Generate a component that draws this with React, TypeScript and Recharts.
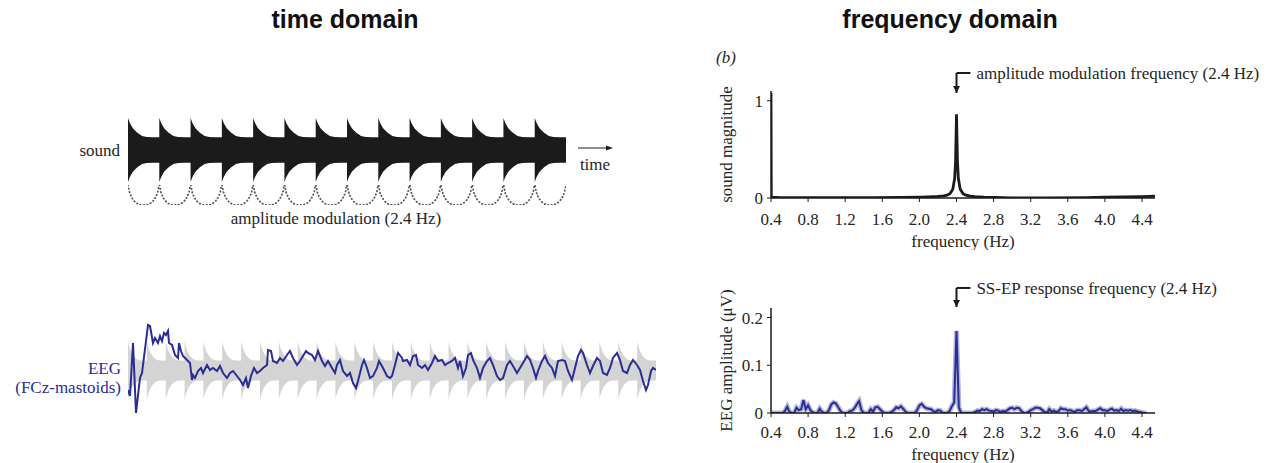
import React from 'react';
import {
  AreaChart,
  Area,
  LineChart,
  Line,
  XAxis,
  YAxis,
  ReferenceLine,
  ReferenceDot,
} from 'recharts';

const AM_RATE = 2.4; // Hz
const SOUND_CYCLES = 14;
const EEG_CYCLES = 28;

// one modulation cycle of the sound envelope (fraction of cycle -> relative amplitude)
const burstPhase = [0, 0.03, 0.06, 0.1, 0.15, 0.2, 0.3, 0.45, 0.6, 0.8, 1];
const soundBurstLevel = [1, 0.92, 0.84, 0.77, 0.69, 0.63, 0.54, 0.44, 0.41, 0.4, 0.4];
const eegBurstLevel = [1, 0.91, 0.83, 0.75, 0.66, 0.59, 0.49, 0.39, 0.35, 0.34, 0.34];

// dotted modulation arcs under the sound
const arcPhase = [0, 0.05, 0.1, 0.2, 0.3, 0.4, 0.5, 0.6, 0.7, 0.8, 0.9, 0.95, 1];
const arcDepth = [0, 0.35, 0.55, 0.8, 0.93, 0.99, 1, 0.99, 0.93, 0.8, 0.55, 0.35, 0];

// EEG trace (FCz-mastoids), sample index and amplitude
const eegSample = [
  0, 2, 5, 8, 12, 14, 18, 20, 22, 25, 27, 30, 32, 34, 36, 38, 40, 41, 44, 47, 50, 51, 53, 55, 59,
  62, 64, 65, 67, 70, 73, 75, 79, 82, 85, 89, 92, 95, 99, 102, 105, 109, 112, 115, 118, 120, 123,
  126, 129, 132, 135, 139, 140, 143, 145, 149, 152, 155, 159, 162, 165, 169, 172, 175, 178, 180,
  184, 187, 190, 194, 197, 200, 204, 207, 209, 212, 215, 219, 222, 225, 228, 230, 234, 236, 239,
  242, 245, 249, 251, 255, 259, 262, 264, 267, 270, 274, 275, 279, 282, 285, 288, 290, 294, 297,
  300, 304, 307, 310, 314, 317, 320, 324, 327, 330, 332, 335, 338, 340, 343, 345, 349, 352, 355,
  359, 362, 365, 369, 372, 375, 379, 382, 385, 389, 392, 395, 399, 402, 405, 408, 410, 414, 417,
  420, 424, 427, 430, 434, 437, 440, 444, 447, 450, 453, 455, 459, 462, 465, 469, 472, 475, 479,
  482, 485, 489, 492, 495, 499, 502, 505, 509, 512, 515, 518, 520, 523, 525, 528,
];
const eegValue = [
  -20, -26, 27, -43, -8, -3, 29, 45, 44, 27, 32, 27, 34, 29, 37, 35, 39, 27, 25, 15, 12, 27, 19, 14,
  10, 7, -10, -5, -8, -1, 2, -3, 5, 0, 2, -1, 4, -3, -8, -3, -1, -6, -10, -15, -8, -18, -6, 2, -3,
  -1, 2, 5, 20, 19, 9, 7, 12, 9, 15, 19, 12, 5, 9, 14, 19, 17, 15, 10, 19, 9, 4, 9, 2, -3, 5, 10,
  -1, -6, -3, -13, -18, -11, 5, 10, 2, -8, -6, 2, 9, 2, -6, -8, -6, 5, 17, 12, 9, 10, 5, 14, 15, 5,
  2, 5, 0, 7, 14, 9, 10, 5, 7, 9, 12, 2, 9, -6, 2, 15, 17, 10, 2, -8, 2, 9, 12, 5, -6, -10, -8, 5,
  9, 4, -3, 2, 7, 14, 10, 2, -8, -1, 9, 14, 7, 2, -6, 9, 10, 9, -1, -10, 2, 14, 20, 17, 5, -3, 4,
  12, 9, -3, -5, 2, 12, 17, 10, -1, -3, 5, 10, 5, 0, -11, -20, -15, -1, 2, 0,
];

// sound spectrum
const soundFreq = [
  0.4, 0.403, 0.5, 1.0, 1.5, 1.8, 2.0, 2.1, 2.2, 2.26, 2.3, 2.33, 2.36, 2.38, 2.39, 2.4, 2.41, 2.42,
  2.44, 2.47, 2.5, 2.55, 2.6, 2.7, 2.8, 3.0, 3.4, 3.8, 4.0, 4.2, 4.4, 4.54,
];
const soundMag = [
  1.08, 0.01, 0.004, 0.003, 0.004, 0.006, 0.009, 0.012, 0.016, 0.022, 0.03, 0.045, 0.09, 0.2, 0.38,
  0.86, 0.38, 0.2, 0.09, 0.045, 0.03, 0.02, 0.014, 0.008, 0.005, 0.002, 0.001, 0.004, 0.008, 0.012,
  0.015, 0.02,
];

// EEG spectrum, bins of 0.025 Hz from 0.4 Hz
const EEG_SPEC_START = 0.4;
const EEG_SPEC_STEP = 0.025;
const eegSpecAmp = [
  0, 0, 0, 0, 0, 0, 0.004, 0.013, 0.002, 0, 0, 0.011, 0.006, 0.008, 0.027, 0.008, 0.016, 0.006,
  0.001, 0, 0, 0.009, 0.002, 0, 0, 0.006, 0.018, 0.022, 0.02, 0.012, 0.004, 0, 0, 0, 0.004, 0.005,
  0.01, 0.018, 0.025, 0.006, 0, 0, 0, 0.008, 0.003, 0.012, 0.013, 0.008, 0.003, 0, 0, 0, 0.002,
  0.006, 0.012, 0.01, 0.014, 0.009, 0.003, 0, 0, 0, 0, 0.006, 0.016, 0.019, 0.013, 0.01, 0.009,
  0.008, 0.004, 0.002, 0.006, 0.005, 0, 0, 0, 0.004, 0.014, 0.022, 0.172, 0.012, 0, 0, 0, 0, 0, 0,
  0.002, 0.005, 0.004, 0.008, 0.006, 0.008, 0.005, 0.004, 0.003, 0.006, 0.005, 0.002, 0.004, 0.003,
  0.006, 0.01, 0.011, 0.008, 0.011, 0.01, 0.004, 0, 0, 0.002, 0.006, 0.008, 0.011, 0.011, 0.01,
  0.006, 0.002, 0, 0.008, 0.003, 0.005, 0.002, 0.004, 0.01, 0.008, 0.008, 0.005, 0.006, 0.004,
  0.002, 0.006, 0.006, 0.004, 0.008, 0.012, 0.004, 0.003, 0.004, 0.004, 0.007, 0.01, 0.006, 0.006,
  0.004, 0.007, 0.009, 0.005, 0.006, 0.004, 0.009, 0.004, 0.006, 0.005, 0.006, 0.004, 0.005, 0.003,
  0.002, 0.001, 0, 0,
];

const freqTicks = [0.4, 0.8, 1.2, 1.6, 2.0, 2.4, 2.8, 3.2, 3.6, 4.0, 4.4];

const INK = '#1b1b1b';
const EEG_BLUE = '#2a2d94';
const TEXT = '#262626';

const repeatCycles = (cycles: number, phases: number[], levels: number[]) => {
  const rows: { t: number; v: number; env: [number, number] }[] = [];
  for (let c = 0; c < cycles; c++) {
    phases.forEach((p, i) => {
      rows.push({ t: (c + p) / AM_RATE, v: levels[i], env: [-levels[i], levels[i]] });
    });
  }
  return rows;
};

const soundEnvelope = repeatCycles(SOUND_CYCLES, burstPhase, soundBurstLevel);
const eegBackground = repeatCycles(EEG_CYCLES, burstPhase, eegBurstLevel);
const modulationArcs = repeatCycles(SOUND_CYCLES, arcPhase, arcDepth);
const eegTrace = eegSample.map((s, i) => ({ s, v: eegValue[i] }));
const soundSpectrum = soundFreq.map((f, i) => ({ f, amp: soundMag[i] }));
const eegSpectrum = eegSpecAmp.map((amp, i) => ({
  f: +(EEG_SPEC_START + i * EEG_SPEC_STEP).toFixed(3),
  amp,
}));

const noMargin = { top: 0, right: 0, bottom: 0, left: 0 };
const tickFont = { fontSize: 17, fill: TEXT };
const fmtFreq = (v: number) => v.toFixed(1);

const Arrowhead = (props: any) => {
  const { cx, cy } = props;
  return <path d={`M${cx - 3.5},${cy - 7} L${cx + 3.5},${cy - 7} L${cx},${cy} Z`} fill={INK} />;
};

const SpectrumPanel = ({
  data,
  top,
  height,
  marginTop,
  yDomain,
  yTicks,
  yLabel,
  color,
  band,
  note,
  noteY,
  tipY,
  tickMargin,
  labelOffset,
}: any) => (
  <div style={{ position: 'absolute', left: 690, top }}>
    <LineChart
      width={570}
      height={height}
      data={data}
      margin={{ top: marginTop, right: 105, bottom: 0, left: 41 }}
    >
      <XAxis
        type="number"
        dataKey="f"
        domain={[0.4, 4.54]}
        ticks={freqTicks}
        tickFormatter={fmtFreq}
        allowDataOverflow
        height={52}
        tick={tickFont}
        tickSize={4}
        tickMargin={tickMargin}
        axisLine={{ stroke: INK, strokeWidth: 1.5 }}
        tickLine={{ stroke: INK }}
        label={{
          value: 'frequency (Hz)',
          position: 'insideBottom',
          offset: labelOffset,
          style: { fontSize: 17, fill: TEXT },
        }}
      />
      <YAxis
        type="number"
        domain={yDomain}
        ticks={yTicks}
        tickFormatter={(v: number) => (v === 0 || v === 1 ? String(v) : v.toFixed(1))}
        allowDataOverflow
        width={40}
        tick={tickFont}
        tickSize={4}
        tickMargin={4}
        axisLine={{ stroke: INK, strokeWidth: 1.5 }}
        tickLine={{ stroke: INK }}
        label={{
          value: yLabel,
          angle: -90,
          position: 'insideLeft',
          offset: -5,
          style: { fontSize: 17, fill: TEXT, textAnchor: 'middle' },
        }}
      />
      {band && (
        <Line
          type="linear"
          dataKey="amp"
          name="band"
          stroke={band}
          strokeWidth={5}
          dot={false}
          isAnimationActive={false}
        />
      )}
      <Line
        type="linear"
        dataKey="amp"
        stroke={color}
        strokeWidth={band ? 2 : 2.8}
        dot={false}
        isAnimationActive={false}
      />
      <ReferenceLine
        segment={[
          { x: 2.4, y: tipY },
          { x: 2.4, y: noteY },
        ]}
        stroke={INK}
        strokeWidth={2}
        ifOverflow="visible"
      />
      <ReferenceLine
        segment={[
          { x: 2.4, y: noteY },
          { x: 2.55, y: noteY },
        ]}
        stroke={INK}
        strokeWidth={2}
        ifOverflow="visible"
        label={{ value: note, position: 'right', offset: 6, style: { fontSize: 17, fill: TEXT } }}
      />
      <ReferenceDot x={2.4} y={tipY} ifOverflow="visible" shape={Arrowhead} />
    </LineChart>
  </div>
);

const App = () => (
  <div
    style={{
      position: 'absolute',
      left: 0,
      top: 0,
      width: 1268,
      height: 463,
      overflow: 'hidden',
      background: '#fff',
      fontFamily: "'Liberation Serif', 'Times New Roman', serif",
    }}
  >
    {/* sound envelope */}
    <div style={{ position: 'absolute', left: 128, top: 118 }}>
      <AreaChart width={438} height={64} data={soundEnvelope} margin={noMargin}>
        <XAxis type="number" dataKey="t" domain={[0, SOUND_CYCLES / AM_RATE]} hide />
        <YAxis type="number" domain={[-1, 1]} hide />
        <Area
          type="linear"
          dataKey="env"
          fill={INK}
          fillOpacity={1}
          stroke="none"
          isAnimationActive={false}
        />
      </AreaChart>
    </div>

    {/* dotted amplitude modulation arcs */}
    <div style={{ position: 'absolute', left: 128, top: 185 }}>
      <LineChart width={438} height={20} data={modulationArcs} margin={noMargin}>
        <XAxis type="number" dataKey="t" domain={[0, SOUND_CYCLES / AM_RATE]} hide />
        <YAxis type="number" domain={[0, 1]} reversed hide />
        <Line
          type="monotone"
          dataKey="v"
          stroke="#5a5a5a"
          strokeWidth={1.8}
          strokeDasharray="0.5 3"
          strokeLinecap="round"
          dot={false}
          isAnimationActive={false}
        />
      </LineChart>
    </div>

    {/* sound behind the EEG */}
    <div style={{ position: 'absolute', left: 128, top: 341 }}>
      <AreaChart width={528} height={59} data={eegBackground} margin={noMargin}>
        <XAxis type="number" dataKey="t" domain={[0, EEG_CYCLES / AM_RATE]} hide />
        <YAxis type="number" domain={[-1, 1]} hide />
        <Area
          type="linear"
          dataKey="env"
          fill="#d4d4d4"
          fillOpacity={1}
          stroke="none"
          isAnimationActive={false}
        />
      </AreaChart>
    </div>

    {/* EEG trace */}
    <div style={{ position: 'absolute', left: 128, top: 318 }}>
      <LineChart width={528} height={100} data={eegTrace} margin={noMargin}>
        <XAxis type="number" dataKey="s" domain={[0, 528]} hide />
        <YAxis type="number" domain={[-48, 52]} hide />
        <Line
          type="linear"
          dataKey="v"
          stroke={EEG_BLUE}
          strokeWidth={2}
          dot={false}
          isAnimationActive={false}
        />
      </LineChart>
    </div>

    <SpectrumPanel
      data={soundSpectrum}
      top={40}
      height={210}
      marginTop={51}
      yDomain={[0, 1.1]}
      yTicks={[0, 1]}
      yLabel="sound magnitude"
      color={INK}
      note="amplitude modulation frequency (2.4 Hz)"
      noteY={1.285}
      tipY={1.08}
      tickMargin={11}
      labelOffset={3}
    />
    <SpectrumPanel
      data={eegSpectrum}
      top={270}
      height={195}
      marginTop={38}
      yDomain={[0, 0.22]}
      yTicks={[0, 0.1, 0.2]}
      yLabel="EEG amplitude (μV)"
      color={EEG_BLUE}
      band="#b3b6dc"
      note="SS-EP response frequency (2.4 Hz)"
      noteY={0.262}
      tipY={0.222}
      tickMargin={9}
      labelOffset={5}
    />

    {/* titles and panel text */}
    <svg
      width={1268}
      height={463}
      style={{ position: 'absolute', left: 0, top: 0, pointerEvents: 'none' }}
    >
      <g fontFamily="'Liberation Sans', Arial, sans-serif" fontWeight="bold" fontSize={25} fill="#111">
        <text x={345} y={19} textAnchor="middle" dominantBaseline="central">
          time domain
        </text>
        <text x={950} y={19} textAnchor="middle" dominantBaseline="central">
          frequency domain
        </text>
      </g>
      <g fontSize={17} fill={TEXT}>
        <text x={120} y={150} textAnchor="end" dominantBaseline="central">
          sound
        </text>
        <text x={595} y={164} textAnchor="middle" dominantBaseline="central">
          time
        </text>
        <text x={336} y={218} textAnchor="middle" dominantBaseline="central">
          amplitude modulation (2.4 Hz)
        </text>
        <text x={716} y={57} dominantBaseline="central" fontStyle="italic">
          (b)
        </text>
      </g>
      <line x1={578} y1={148} x2={608} y2={148} stroke={INK} strokeWidth={1} />
      <path d="M613,148 L606,145.5 L606,150.5 Z" fill={INK} />
      <g fontSize={17} fill={EEG_BLUE}>
        <text x={121} y={368} textAnchor="end" dominantBaseline="central">
          EEG
        </text>
        <text x={121} y={387} textAnchor="end" dominantBaseline="central">
          (FCz-mastoids)
        </text>
      </g>
    </svg>
  </div>
);

export default App;
